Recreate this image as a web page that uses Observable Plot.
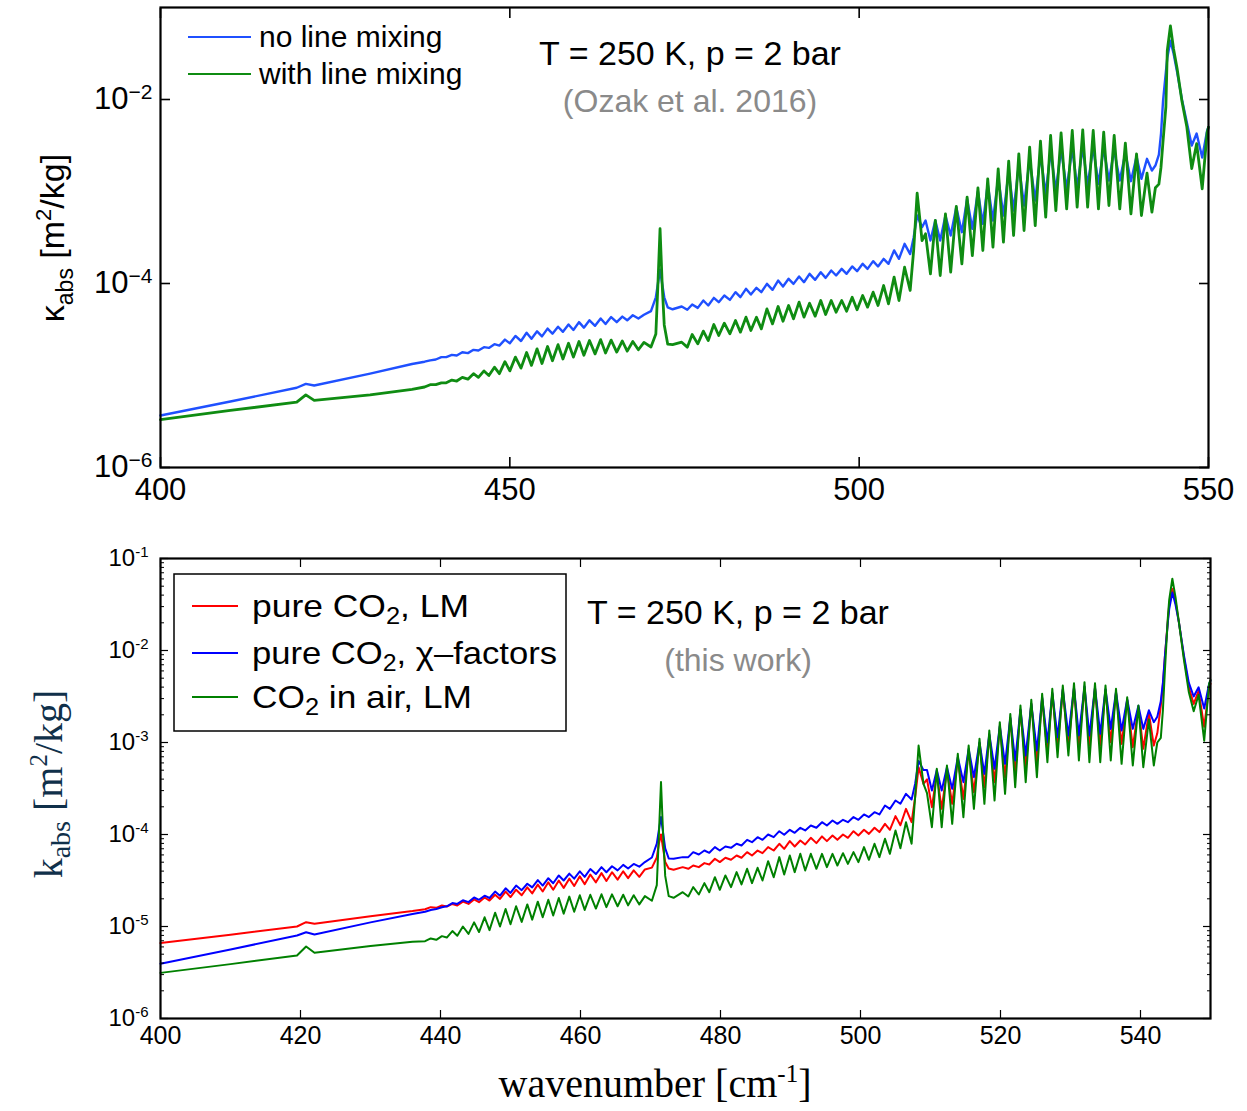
<!DOCTYPE html>
<html><head><meta charset="utf-8">
<script src="https://cdn.jsdelivr.net/npm/d3@7"></script>
<script src="https://cdn.jsdelivr.net/npm/@observablehq/plot@0.6"></script>
<style>
body{margin:0;background:#fff;}
#chart{width:1247px;height:1111px;position:relative;background:#fff;}
#chart svg{display:block;overflow:visible;}
</style></head><body><div id="chart"></div>
<script>
// shared wavenumber grid [cm^-1]
const wavenumber = [
  400, 410, 419.5, 420.8, 422, 430, 436,
  437.8, 438.6, 439.4, 440.2, 440.9, 441.7, 442.4, 443.2, 444.0, 444.8, 445.5, 446.3, 447.0, 447.8, 448.5, 449.3, 450.0, 450.8, 451.6, 452.4,
  453.1, 453.9, 454.6, 455.4, 456.1, 456.9, 457.6, 458.4, 459.1, 459.9, 460.6, 461.4, 462.2, 463.0, 463.7, 464.5, 465.3, 466.1, 466.8, 467.6, 468.4, 469.2,
  470.2, 470.9, 471.2, 471.5, 471.8, 472.1, 472.6,
  473.3, 474.6, 475.4, 476.1, 476.9, 477.7, 478.4, 479.2, 479.9, 480.7, 481.5, 482.3, 483.0, 483.8, 484.5, 485.3, 486.0, 486.8, 487.6, 488.4, 489.1, 489.9,
  490.6, 491.4, 492.1, 492.9, 493.7, 494.5, 495.2, 496.0, 496.7, 497.5, 498.2, 499.0, 499.7, 500.5, 501.2, 502.0, 502.7, 503.5, 504.2, 505.0, 505.7, 506.5, 507.3,
  507.8, 508.3, 509.0, 509.5,
  510.2, 510.9, 511.6, 512.35, 513.1, 513.9, 514.7, 515.45, 516.2, 517.0, 517.7, 518.4, 519.15, 519.9, 520.65, 521.4, 522.1, 522.85, 523.6, 524.4, 525.2, 525.95,
  526.7, 527.4, 528.15, 528.9, 529.7, 530.5, 531.2, 532.0, 532.7, 533.5, 534.25, 535.0, 535.75, 536.5, 537.3, 538.1, 538.9, 539.7, 540.4, 541.2, 541.9,
  542.4, 542.9, 543.2, 543.5, 543.9, 544.1, 544.55, 545.0, 545.5, 546.2, 546.9, 547.6, 548.3, 549.1, 549.8, 550
];

// log10 of kappa_abs [m^2/kg], top panel (Ozak et al. 2016)
const log10TopNoLineMixing = [
  -5.435, -5.283, -5.133, -5.091, -5.109, -4.98, -4.875,
  -4.85, -4.835, -4.826, -4.80, -4.80, -4.776, -4.783, -4.747, -4.757, -4.721, -4.728, -4.692, -4.70, -4.66, -4.675, -4.61, -4.65, -4.57, -4.625, -4.535,
  -4.60, -4.52, -4.575, -4.49, -4.545, -4.47, -4.525, -4.445, -4.505, -4.42, -4.48, -4.40, -4.46, -4.38, -4.44, -4.365, -4.42, -4.36, -4.40, -4.345, -4.38, -4.34,
  -4.30, -4.15, -4.0, -3.85, -4.0, -4.15, -4.26,
  -4.28, -4.25, -4.286, -4.228, -4.265, -4.185, -4.239, -4.156, -4.203, -4.131, -4.178, -4.094, -4.149, -4.058, -4.12, -4.047, -4.094, -4.004, -4.069, -3.968, -4.033, -3.949,
  -4.004, -3.924, -3.986, -3.895, -3.96, -3.877, -3.939, -3.859, -3.913, -3.841, -3.895, -3.815, -3.866, -3.786, -3.841, -3.757, -3.815, -3.732, -3.786, -3.641, -3.732, -3.569, -3.68,
  -3.50, -3.26, -3.388, -3.315,
  -3.533, -3.315, -3.533, -3.261, -3.478, -3.17, -3.442, -3.08, -3.406, -3.0, -3.352, -2.92, -3.315, -2.85, -3.261, -2.78, -3.207, -2.71, -3.152, -2.65, -3.098, -2.60,
  -3.025, -2.56, -2.989, -2.54, -2.971, -2.53, -2.953, -2.52, -2.935, -2.52, -2.917, -2.53, -2.881, -2.55, -2.881, -2.58, -2.888, -2.62, -2.862, -2.645, -2.772,
  -2.718, -2.60, -2.373, -2.01, -1.70, -1.55, -1.36, -1.50, -1.70, -2.0, -2.25, -2.50, -2.37, -2.63, -2.34, -2.30
];
const log10TopWithLineMixing = [
  -5.48, -5.38, -5.29, -5.21, -5.27, -5.21, -5.15,
  -5.125, -5.10, -5.10, -5.08, -5.08, -5.05, -5.06, -5.02, -5.04, -4.98, -5.02, -4.95, -5.00, -4.91, -4.98, -4.85, -4.95, -4.80, -4.92, -4.75,
  -4.89, -4.71, -4.87, -4.685, -4.84, -4.665, -4.82, -4.65, -4.80, -4.63, -4.78, -4.62, -4.765, -4.61, -4.755, -4.615, -4.745, -4.625, -4.735, -4.63, -4.72, -4.64,
  -4.69, -4.55, -4.0, -3.405, -4.0, -4.45, -4.66,
  -4.665, -4.638, -4.692, -4.554, -4.656, -4.518, -4.62, -4.446, -4.565, -4.431, -4.547, -4.402, -4.529, -4.366, -4.511, -4.366, -4.493, -4.276, -4.439, -4.25, -4.41, -4.239,
  -4.384, -4.203, -4.366, -4.214, -4.355, -4.185, -4.337, -4.185, -4.312, -4.185, -4.301, -4.149, -4.286, -4.131, -4.257, -4.094, -4.239, -4.022, -4.221, -3.931, -4.185, -3.823, -4.076,
  -3.64, -3.018, -3.533, -3.46,
  -3.895, -3.315, -3.913, -3.243, -3.877, -3.163, -3.786, -3.062, -3.696, -2.96, -3.641, -2.862, -3.605, -2.754, -3.551, -2.67, -3.478, -2.591, -3.424, -2.518, -3.37, -2.453,
  -3.279, -2.391, -3.207, -2.362, -3.189, -2.337, -3.17, -2.33, -3.17, -2.337, -3.189, -2.355, -3.152, -2.391, -3.189, -2.475, -3.243, -2.591, -3.261, -2.80, -3.225,
  -2.96, -2.92, -2.736, -2.446, -2.08, -1.47, -1.20, -1.45, -1.66, -2.02, -2.30, -2.75, -2.48, -2.97, -2.36, -2.30
];

// log10 of k_abs [m^2/kg], bottom panel (this work)
const log10PureLM = [
  -5.18, -5.09, -5.00, -4.953, -4.971, -4.888, -4.832,
  -4.812, -4.79, -4.797, -4.772, -4.783, -4.755, -4.772, -4.73, -4.754, -4.705, -4.736, -4.685, -4.718, -4.655, -4.70, -4.62, -4.68, -4.60, -4.66, -4.575,
  -4.64, -4.545, -4.62, -4.52, -4.60, -4.50, -4.58, -4.48, -4.56, -4.455, -4.54, -4.435, -4.52, -4.42, -4.505, -4.41, -4.49, -4.40, -4.475, -4.39, -4.46, -4.38,
  -4.36, -4.25, -4.10, -4.0, -4.15, -4.30, -4.37,
  -4.384, -4.355, -4.373, -4.337, -4.355, -4.311, -4.326, -4.264, -4.30, -4.253, -4.275, -4.228, -4.253, -4.192, -4.228, -4.174, -4.203, -4.137, -4.174, -4.101, -4.156, -4.072,
  -4.13, -4.065, -4.108, -4.036, -4.094, -4.021, -4.072, -4.011, -4.058, -4.0, -4.036, -3.964, -4.011, -3.949, -3.993, -3.927, -3.974, -3.884, -3.949, -3.80, -3.90, -3.721, -3.866,
  -3.60, -3.27, -3.45, -3.40,
  -3.703, -3.34, -3.721, -3.30, -3.667, -3.18, -3.613, -3.09, -3.54, -3.01, -3.486, -2.92, -3.431, -2.83, -3.377, -2.74, -3.341, -2.65, -3.268, -2.58, -3.214, -2.52,
  -3.105, -2.47, -3.051, -2.43, -3.051, -2.41, -3.033, -2.40, -3.033, -2.41, -3.033, -2.43, -2.997, -2.46, -3.015, -2.54, -3.051, -2.62, -3.069, -2.68, -3.033,
  -2.90, -2.60, -2.38, -2.05, -1.68, -1.50, -1.33, -1.47, -1.70, -2.07, -2.40, -2.58, -2.44, -2.83, -2.40, -2.36
];
const log10PureChi = [
  -5.406, -5.25, -5.098, -5.062, -5.087, -4.955, -4.865,
  -4.84, -4.82, -4.81, -4.79, -4.78, -4.745, -4.755, -4.715, -4.735, -4.685, -4.71, -4.665, -4.69, -4.62, -4.665, -4.585, -4.635, -4.555, -4.605, -4.535,
  -4.575, -4.495, -4.555, -4.475, -4.53, -4.445, -4.50, -4.425, -4.48, -4.40, -4.46, -4.375, -4.43, -4.355, -4.41, -4.345, -4.39, -4.33, -4.37, -4.32, -4.35, -4.30,
  -4.25, -4.10, -3.95, -3.81, -3.98, -4.15, -4.26,
  -4.264, -4.246, -4.246, -4.192, -4.217, -4.174, -4.199, -4.137, -4.174, -4.13, -4.145, -4.101, -4.119, -4.058, -4.083, -4.029, -4.058, -4.0, -4.029, -3.964, -4.003, -3.949,
  -3.982, -3.927, -3.956, -3.902, -3.927, -3.866, -3.902, -3.848, -3.884, -3.84, -3.866, -3.811, -3.84, -3.782, -3.811, -3.757, -3.782, -3.685, -3.721, -3.63, -3.666, -3.558, -3.62,
  -3.45, -3.20, -3.30, -3.30,
  -3.522, -3.30, -3.522, -3.27, -3.504, -3.16, -3.431, -3.07, -3.377, -3.0, -3.341, -2.91, -3.286, -2.82, -3.232, -2.73, -3.196, -2.64, -3.141, -2.58, -3.087, -2.51,
  -2.997, -2.46, -2.942, -2.42, -2.924, -2.40, -2.924, -2.39, -2.924, -2.40, -2.906, -2.42, -2.852, -2.45, -2.87, -2.53, -2.852, -2.60, -2.852, -2.65, -2.779,
  -2.72, -2.55, -2.35, -2.05, -1.70, -1.55, -1.37, -1.50, -1.70, -2.05, -2.35, -2.50, -2.40, -2.63, -2.36, -2.33
];
const log10AirLM = [
  -5.504, -5.409, -5.315, -5.217, -5.286, -5.213, -5.165,
  -5.16, -5.13, -5.145, -5.105, -5.12, -5.05, -5.10, -5.00, -5.08, -4.955, -5.06, -4.90, -5.04, -4.85, -5.00, -4.81, -4.975, -4.78, -4.95, -4.76,
  -4.925, -4.73, -4.90, -4.71, -4.88, -4.69, -4.86, -4.675, -4.84, -4.66, -4.82, -4.655, -4.805, -4.65, -4.79, -4.65, -4.78, -4.655, -4.77, -4.66, -4.76, -4.67,
  -4.72, -4.55, -4.0, -3.43, -4.0, -4.45, -4.67,
  -4.688, -4.627, -4.674, -4.572, -4.652, -4.529, -4.627, -4.464, -4.601, -4.445, -4.572, -4.409, -4.543, -4.373, -4.529, -4.362, -4.50, -4.29, -4.464, -4.246, -4.435, -4.228,
  -4.409, -4.21, -4.391, -4.21, -4.373, -4.21, -4.355, -4.21, -4.337, -4.203, -4.319, -4.192, -4.30, -4.137, -4.275, -4.101, -4.246, -4.047, -4.21, -3.956, -4.15, -3.866, -4.10,
  -3.60, -3.033, -3.45, -3.55,
  -3.92, -3.286, -3.92, -3.25, -3.884, -3.123, -3.812, -3.033, -3.721, -2.96, -3.667, -2.87, -3.631, -2.779, -3.558, -2.689, -3.486, -2.598, -3.431, -2.536, -3.377, -2.471,
  -3.214, -2.417, -3.16, -2.381, -3.141, -2.355, -3.196, -2.344, -3.214, -2.355, -3.214, -2.381, -3.196, -2.417, -3.232, -2.508, -3.25, -2.598, -3.268, -2.75, -3.25,
  -3.0, -2.95, -2.65, -2.2, -1.65, -1.45, -1.22, -1.42, -1.70, -2.10, -2.45, -2.66, -2.48, -2.98, -2.36, -2.32
];

const topXTicks = [400, 450, 500, 550];
const topYTicks = [1e-6, 1e-4, 1e-2];
const botXTicks = [400, 420, 440, 460, 480, 500, 520, 540];
const botYTicks = [1e-6, 1e-5, 1e-4, 1e-3, 1e-2, 1e-1];
const topLabels = ["no line mixing", "with line mixing"];

const colTop = {blue: "#1f50ff", green: "#0f8c12"};
const colBot = {red: "#ff0000", blue: "#0000ff", green: "#008000"};

function table(logs, name) {
  if (logs.length !== wavenumber.length) throw new Error(name + " has " + logs.length + " values, grid has " + wavenumber.length);
  return wavenumber.map((x, i) => ({x, y: Math.pow(10, logs[i])}));
}
const topBlue = table(log10TopNoLineMixing, "topBlue");
const topGreen = table(log10TopWithLineMixing, "topGreen");
const botRed = table(log10PureLM, "botRed");
const botBlue = table(log10PureChi, "botBlue");
const botGreen = table(log10AirLM, "botGreen");

const minorY = [];
for (let e = -6; e < -1; e++) for (let m = 2; m <= 9; m++) minorY.push(m * Math.pow(10, e));

const expFmt = (minus) => d => "10^" + String(Math.round(Math.log10(d))).replace("-", minus);
const none = () => "";

const sans = "'Liberation Sans', Arial, Helvetica, sans-serif";
const serif = "'Liberation Serif', 'Times New Roman', serif";

function inTicksX(ticks, size, sw) {
  return [
    Plot.axisX(ticks, {anchor: "bottom", tickSize: size, dy: -size, tickFormat: none, label: null, strokeWidth: sw}),
    Plot.axisX(ticks, {anchor: "top", tickSize: size, dy: size, tickFormat: none, label: null, strokeWidth: sw})
  ];
}
function inTicksY(ticks, size, sw) {
  return [
    Plot.axisY(ticks, {anchor: "left", tickSize: size, dx: size, tickFormat: none, label: null, strokeWidth: sw}),
    Plot.axisY(ticks, {anchor: "right", tickSize: size, dx: -size, tickFormat: none, label: null, strokeWidth: sw})
  ];
}

// ---------- top panel ----------
const topPlot = Plot.plot({
  width: 1247, height: 520,
  marginLeft: 160, marginRight: 39, marginTop: 7, marginBottom: 53,
  style: {fontFamily: sans, fontSize: "31px", color: "#000", background: "transparent", overflow: "visible"},
  x: {domain: [400, 550]},
  y: {type: "log", domain: [1e-6, 1e-1]},
  marks: [
    Plot.line(topBlue, {x: "x", y: "y", stroke: colTop.blue, strokeWidth: 2.4}),
    Plot.line(topGreen, {x: "x", y: "y", stroke: colTop.green, strokeWidth: 2.8}),
    Plot.axisX(topXTicks, {anchor: "bottom", tickSize: 0, tickPadding: 10, label: null, tickFormat: d => String(d), fontSize: 31}),
    Plot.axisY(topYTicks, {anchor: "left", tickSize: 0, tickPadding: 8, label: null, tickFormat: expFmt("\u2212"), fontSize: 31}),
    ...inTicksX(topXTicks, 10, 1.6),
    ...inTicksY(topYTicks, 10, 1.6),
    Plot.frame({stroke: "#000", strokeWidth: 2.2})
  ]
});

// ---------- bottom panel ----------
const botPlot = Plot.plot({
  width: 1247, height: 591,
  marginLeft: 160, marginRight: 37, marginTop: 38, marginBottom: 93,
  style: {fontFamily: sans, fontSize: "22px", color: "#000", background: "transparent", overflow: "visible"},
  x: {domain: [400, 550]},
  y: {type: "log", domain: [1e-6, 1e-1]},
  marks: [
    Plot.line(botRed, {x: "x", y: "y", stroke: colBot.red, strokeWidth: 2}),
    Plot.line(botBlue, {x: "x", y: "y", stroke: colBot.blue, strokeWidth: 2}),
    Plot.line(botGreen, {x: "x", y: "y", stroke: colBot.green, strokeWidth: 2}),
    Plot.axisX(botXTicks, {anchor: "bottom", tickSize: 0, tickPadding: 8, label: null, tickFormat: d => String(d), fontSize: 25}),
    Plot.axisY(botYTicks, {anchor: "left", tickSize: 0, tickPadding: 12, label: null, tickFormat: expFmt("-"), fontSize: 24}),
    ...inTicksX(botXTicks, 8, 1.2),
    ...inTicksY(botYTicks, 8, 1.2),
    ...inTicksY(minorY, 4, 1),
    Plot.frame({stroke: "#000", strokeWidth: 2.2})
  ]
});

const chart = document.getElementById("chart");
chart.appendChild(topPlot);
chart.appendChild(botPlot);

function supLabels(svg, expSize, expDy) {
  d3.select(svg).selectAll('g[aria-label="y-axis tick label"] text').each(function() {
    const t = this.textContent;
    const m = t.match(/^10\^(.*)$/);
    if (!m) return;
    const s = d3.select(this);
    s.text(null);
    s.append("tspan").text("10");
    s.append("tspan").attr("dy", expDy).attr("font-size", expSize).text(m[1]);
  });
}
supLabels(topPlot, "21px", "-0.5em");
supLabels(botPlot, "15px", "-0.6em");

function rich(g, x, y, parts, attrs) {
  const t = g.append("text").attr("x", x).attr("y", y).attr("text-anchor", "start");
  Object.entries(attrs || {}).forEach(([k, v]) => t.attr(k, v));
  parts.forEach(p => {
    const ts = t.append("tspan").text(p.t);
    if (p.size) ts.attr("font-size", p.size);
    if (p.dy) ts.attr("dy", p.dy);
  });
  return t;
}
function label(g, x, y, txt, size, fill, anchor) {
  return g.append("text").attr("x", x).attr("y", y).attr("text-anchor", anchor || "start")
    .attr("font-family", sans).attr("font-size", size).attr("fill", fill || "#000").text(txt);
}

// ---------- top decorations ----------
const gt = d3.select(topPlot).append("g");
gt.append("g").attr("transform", "translate(64,238) rotate(-90)").call(g => rich(g, 0, 0, [
  {t: "\u03ba"}, {t: "abs", size: "23px", dy: "9"}, {t: " [m", dy: "-9"}, {t: "2", size: "22px", dy: "-13"}, {t: "/kg]", dy: "13"}
], {"text-anchor": "middle", "font-family": sans, "font-size": "34px", fill: "#000"}));
[[colTop.blue, 37, topLabels[0]], [colTop.green, 74, topLabels[1]]].forEach(([c, y, lab]) => {
  gt.append("line").attr("x1", 188).attr("x2", 251).attr("y1", y).attr("y2", y).attr("stroke", c).attr("stroke-width", 2);
  label(gt, 259, y + 10, lab, "30px");
});
label(gt, 690, 65, "T = 250 K, p = 2 bar", "34px", "#000", "middle");
label(gt, 690, 112, "(Ozak et al. 2016)", "32px", "#8a8a8a", "middle");

// ---------- bottom decorations ----------
const gb = d3.select(botPlot).append("g");
gb.append("g").attr("transform", "translate(62,264) rotate(-90)").call(g => rich(g, 0, 0, [
  {t: "k"}, {t: "abs", size: "28px", dy: "8"}, {t: " [m", dy: "-8"}, {t: "2", size: "25px", dy: "-15"}, {t: "/kg]", dy: "15"}
], {"text-anchor": "middle", "font-family": serif, "font-size": "40px", fill: "#10304a"}));
rich(gb, 655, 577, [{t: "wavenumber [cm"}, {t: "-1", size: "25px", dy: "-15"}, {t: "]", dy: "15"}],
  {"text-anchor": "middle", "font-family": serif, "font-size": "40px", fill: "#000"});
gb.append("rect").attr("x", 174).attr("y", 54).attr("width", 392).attr("height", 157).attr("fill", "#fff").attr("stroke", "#000").attr("stroke-width", 1.5);
const co2 = (rest, pre) => [{t: (pre || "") + "CO"}, {t: "2", size: "23px", dy: "7"}, {t: rest, dy: "-7"}];
[[colBot.red, 86, co2(", LM", "pure "), 217], [colBot.blue, 133, co2(", \u03c7\u2013factors", "pure "), 305], [colBot.green, 177, co2(" in air, LM"), 220]].forEach(([c, y, parts, w]) => {
  gb.append("line").attr("x1", 192).attr("x2", 238).attr("y1", y).attr("y2", y).attr("stroke", c).attr("stroke-width", 2);
  rich(gb, 252, y + 11, parts, {"font-family": sans, "font-size": "32px", fill: "#000", textLength: w, lengthAdjust: "spacingAndGlyphs"});
});
label(gb, 738, 104, "T = 250 K, p = 2 bar", "34px", "#000", "middle");
label(gb, 738, 151, "(this work)", "32px", "#8a8a8a", "middle");
</script>
</body></html>
